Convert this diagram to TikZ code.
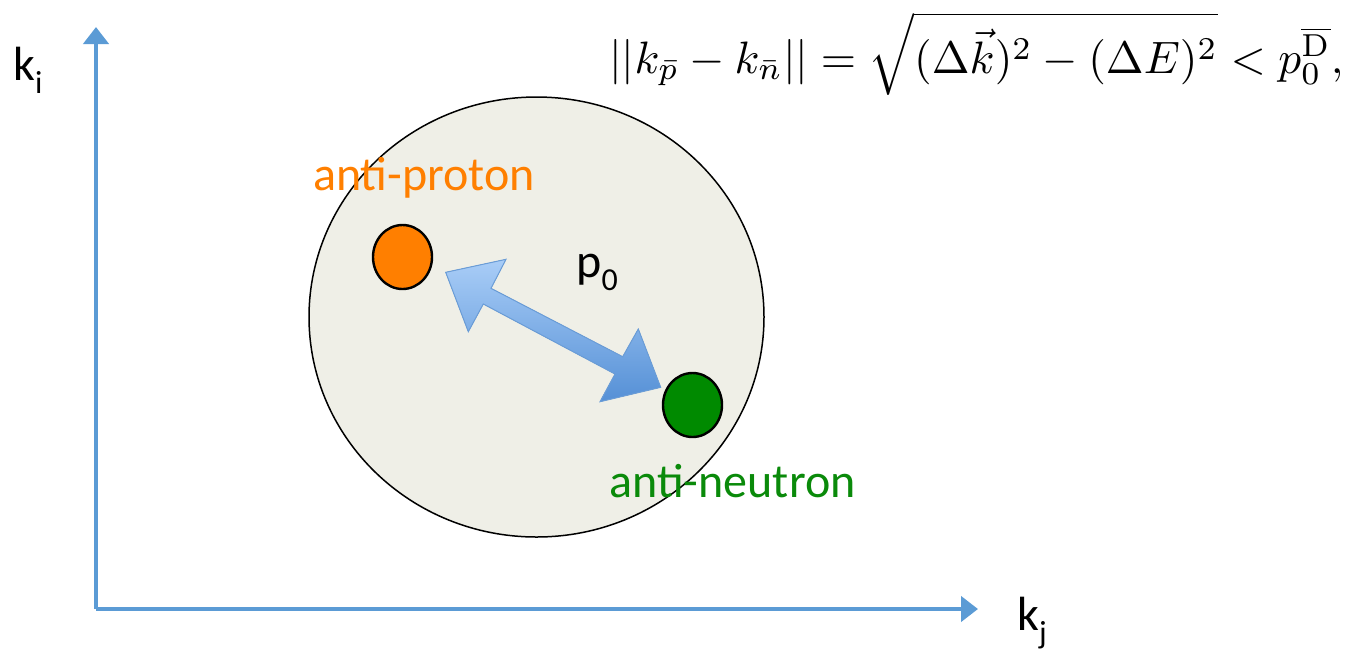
\documentclass[tikz,border=0pt]{standalone}
\usepackage{fontspec}
\usepackage{amsmath}
\usetikzlibrary{arrows.meta,shapes.geometric}
\newfontfamily\carl{Carlito}
\definecolor{axisblue}{HTML}{5B9BD5}
\definecolor{ballfill}{HTML}{EFEFE7}
\definecolor{aporange}{HTML}{FF7F00}
\definecolor{angreen}{HTML}{008A00}
\definecolor{antext}{HTML}{0A8A0A}
\definecolor{arrlight}{HTML}{A9CDF7}
\definecolor{arrdark}{HTML}{5590D6}
\definecolor{arredge}{HTML}{6A9DD8}
\newcommand\lowsub[1]{\raisebox{-0.28em}{\fontsize{16}{16}\selectfont #1}}
\tikzset{
  axisline/.style={draw=axisblue, line width=2.2pt, -{Triangle[length=8.5pt,width=12.5pt]}},
  particle/.style={ellipse, draw=black, line width=1.2pt, inner sep=0pt, minimum width=29.5pt, minimum height=32pt},
  lbl/.style={font=\carl\fontsize{24}{28}\selectfont, inner sep=0pt},
}
\begin{document}
\begin{tikzpicture}[x=0.5pt,y=-0.5pt]
\useasboundingbox (0,0) rectangle (1348,650);
% axes
\coordinate (O) at (96,609);
\coordinate (Ytop) at (96,27);
\coordinate (Xend) at (978,609);
\draw[axisline] (O) -- (Ytop);
\draw[axisline] (96,609) -- (Xend);
% big region
\node[ellipse, draw=black, line width=0.75pt, fill=ballfill, inner sep=0pt,
      minimum width=227.5pt, minimum height=220pt] (region) at (536.5,317) {};
% double arrow
\filldraw[draw=arredge, line width=0.5pt, top color=arrlight, bottom color=arrdark]
  (445.7,272.3) -- (506,259.3) -- (491,288.3) -- (622.7,356.7) -- (638.3,329)
  -- (660.7,387.3) -- (600,401.7) -- (615,374) -- (483.3,304) -- (468.3,331.7) -- cycle;
% particles
\node[particle, fill=aporange] (ap) at (402.5,257) {};
\node[particle, fill=angreen] (an) at (692.5,405) {};
% labels
\node[lbl, text=aporange, anchor=base] (aplbl) at (424,190) {anti-proton};
\node[lbl, text=antext, anchor=base] (anlbl) at (732.5,497) {anti-neutron};
\node[lbl, anchor=base west] (p0) at (576,277) {p\lowsub{0}};
\node[lbl, anchor=base west] (ki) at (13,80) {k\lowsub{i}};
\node[lbl, anchor=base west] (kj) at (1017,630) {k\lowsub{j}};
% formula
\node[inner sep=0pt, anchor=base west] (formula) at (609,73)
  {\scalebox{2.27}{$||k_{\bar{p}}-k_{\bar{n}}||=\sqrt{(\Delta\vec{k})^2-(\Delta E)^2}<p_0^{\overline{\mathrm{D}}},$}};
\end{tikzpicture}
\end{document}
